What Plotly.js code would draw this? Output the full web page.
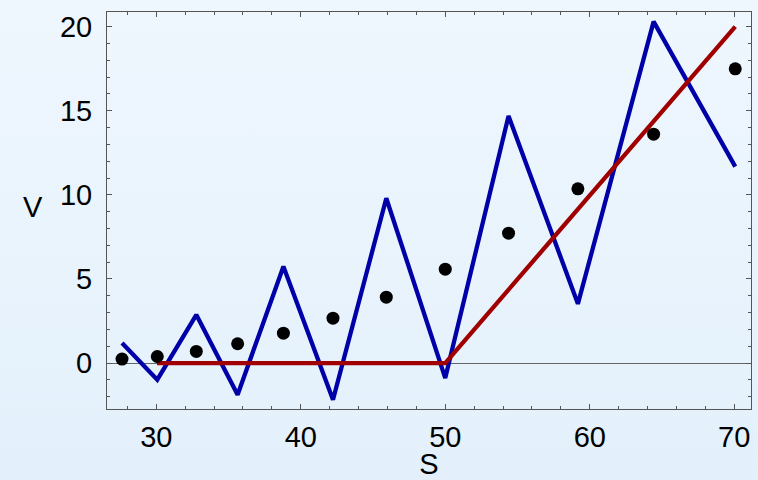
<!DOCTYPE html>
<html>
<head>
<meta charset="utf-8">
<script src="https://cdn.plot.ly/plotly-3.0.1.min.js"></script>
<style>
  html, body { margin: 0; padding: 0; }
  body { width: 758px; height: 480px; background: linear-gradient(to bottom, #eff7fe 0%, #e3f0fb 100%); }
  #chart { width: 758px; height: 480px; }
</style>
</head>
<body>
<div id="chart"></div>
<script>
// Stock prices S (sample points)
const sValues = [27.63, 30.07, 32.77, 35.63, 38.8, 42.23, 45.92, 50.0, 54.38, 59.18, 64.42, 70.07];
// Oscillating approximation (blue)
const blueV = [1.19, -0.99, 2.87, -1.88, 5.74, -2.18, 9.80, -0.89, 14.69, 3.52, 20.30, 11.68];
// Option values (black dots)
const dotV = [0.24, 0.39, 0.69, 1.15, 1.78, 2.67, 3.92, 5.58, 7.72, 10.36, 13.61, 17.49];
// Payoff max(S-50,0) (red)
const payoffS = [30.05, 50, 70.07];
const payoffV = [0, 0, 20.0];

const xTicks = [30, 40, 50, 60, 70];
const yTicks = [0, 5, 10, 15, 20];

const FONT = { family: 'Liberation Sans, Arial, sans-serif', size: 29, color: '#000000' };

const traces = [
  { x: sValues, y: blueV, type: 'scatter', mode: 'lines',
    line: { color: '#0000a8', width: 4.3 }, hoverinfo: 'skip' },
  { x: payoffS, y: payoffV, type: 'scatter', mode: 'lines',
    line: { color: '#a00000', width: 4.3 }, hoverinfo: 'skip' },
  { x: sValues, y: dotV, type: 'scatter', mode: 'markers',
    marker: { color: '#000000', size: 13 }, hoverinfo: 'skip' }
];

function axisBase() {
  return {
    showgrid: false,
    showline: true,
    linecolor: '#555555',
    linewidth: 1,
    mirror: 'allticks',
    ticks: 'inside',
    ticklen: 5,
    tickwidth: 1,
    tickcolor: '#555555',
    tickfont: FONT
  };
}

const layout = {
  width: 758, height: 480,
  paper_bgcolor: 'rgba(0,0,0,0)',
  plot_bgcolor: 'rgba(0,0,0,0)',
  showlegend: false,
  margin: { l: 107, r: 7, t: 12, b: 71 },
  xaxis: Object.assign(axisBase(), {
    range: [26.59, 71.16],
    tickvals: xTicks,
    ticktext: xTicks.map(String),
    zeroline: false,
    ticklabelstandoff: 2,
    minor: { tickvals: [28, 32, 34, 36, 38, 42, 44, 46, 48, 52, 54, 56, 58, 62, 64, 66, 68], ticks: 'inside', ticklen: 3, tickcolor: '#555555' },
    title: { text: 'S', standoff: 0, font: FONT }
  }),
  yaxis: Object.assign(axisBase(), {
    range: [-2.73, 20.87],
    tickvals: yTicks,
    ticktext: yTicks.map(String),
    zeroline: true,
    zerolinecolor: '#666666',
    zerolinewidth: 1,
    ticklabelstandoff: 8,
    minor: { dtick: 1, ticks: 'inside', ticklen: 3, tickcolor: '#555555' }
  }),
  annotations: [
    { text: 'V', xref: 'paper', yref: 'paper', x: -0.115, y: 0.51,
      xanchor: 'center', yanchor: 'middle', showarrow: false, font: FONT }
  ]
};

Plotly.newPlot('chart', traces, layout, { staticPlot: true, displayModeBar: false });
</script>
</body>
</html>
